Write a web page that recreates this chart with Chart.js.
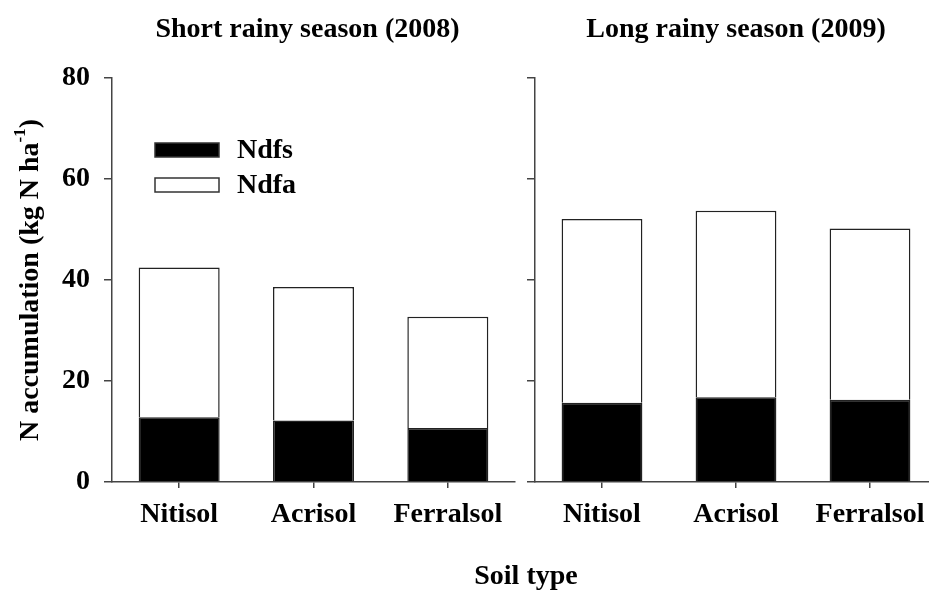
<!DOCTYPE html>
<html>
<head>
<meta charset="utf-8">
<script src="https://cdn.jsdelivr.net/npm/chart.js@4.4.1/dist/chart.umd.min.js"></script>
<style>
  html, body { margin: 0; padding: 0; background: #fff; overflow: hidden; }
  #wrap { position: relative; width: 929px; height: 590px; overflow: hidden; }
  #leftBox { position: absolute; left: 0; top: 0; width: 520px; height: 590px; }
  #rightBox { position: absolute; left: 520px; top: 0; width: 420px; height: 590px; }
  #soilLabel {
    position: absolute; left: 0; width: 1052px; top: 559px; text-align: center;
    font: bold 28px "Liberation Serif", "Times New Roman", serif; color: #000;
  }
</style>
</head>
<body>
<div id="wrap">
  <div id="leftBox"><canvas id="shortChart"></canvas></div>
  <div id="rightBox"><canvas id="longChart"></canvas></div>
  <div id="soilLabel">Soil type</div>
</div>
<script>
const soilTypes = ['Nitisol', 'Acrisol', 'Ferralsol'];
const seriesNames = ['Ndfs', 'Ndfa'];

// short rainy season (2008)
const shortNdfs = [12.8, 12.2, 10.7];
const shortNdfa = [29.7, 26.4, 22.0];

// long rainy season (2009)
const longNdfs = [15.7, 16.8, 16.3];
const longNdfa = [36.4, 36.9, 33.9];

const yMin = 0;
const yMax = 80;
const yStep = 20;

const serif = '"Liberation Serif", "Times New Roman", serif';
const axisColor = '#444';

// panel titles, legend and y title are drawn here
const panelText = {
  id: 'panelText',
  afterDraw(chart, args, opts) {
    const ctx = chart.ctx;
    const area = chart.chartArea;
    ctx.save();
    ctx.fillStyle = '#000';
    ctx.font = `bold 28px ${serif}`;
    ctx.textAlign = 'center';
    ctx.textBaseline = 'middle';
    ctx.fillText(opts.title, (area.left + area.right) / 2 + opts.titleShift, 30);

    if (opts.legend) {
      const ds = chart.data.datasets;
      ds.forEach((d, i) => {
        const y = area.top + 72 + i * 35;
        ctx.fillStyle = d.backgroundColor;
        ctx.strokeStyle = '#333';
        ctx.lineWidth = 1.5;
        ctx.fillRect(area.left + 43, y - 7, 64, 14);
        ctx.strokeRect(area.left + 43, y - 7, 64, 14);
        ctx.fillStyle = '#000';
        ctx.textAlign = 'left';
        ctx.fillText(d.label, area.left + 125, y + 1);
      });
    }

    if (opts.yTitle) {
      const main = 'N accumulation (kg N ha';
      const sup = '-1';
      const end = ')';
      ctx.font = `bold 28px ${serif}`;
      const w1 = ctx.measureText(main).width;
      const w3 = ctx.measureText(end).width;
      ctx.font = `bold 17px ${serif}`;
      const w2 = ctx.measureText(sup).width;
      const total = w1 + w2 + w3;
      ctx.translate(28, (area.top + area.bottom) / 2);
      ctx.rotate(-Math.PI / 2);
      ctx.textAlign = 'left';
      ctx.textBaseline = 'alphabetic';
      let x = -total / 2;
      ctx.font = `bold 28px ${serif}`;
      ctx.fillText(main, x, 10);
      x += w1;
      ctx.font = `bold 17px ${serif}`;
      ctx.fillText(sup, x, -3);
      x += w2;
      ctx.font = `bold 28px ${serif}`;
      ctx.fillText(end, x, 10);
    }
    ctx.restore();
  }
};

function makeChart(canvasId, ndfs, ndfa, opts) {
  return new Chart(document.getElementById(canvasId), {
    type: 'bar',
    data: {
      labels: soilTypes,
      datasets: [
        {
          label: seriesNames[0],
          data: ndfs,
          backgroundColor: '#000',
          borderColor: '#222',
          borderWidth: 1.5
        },
        {
          label: seriesNames[1],
          data: ndfa,
          backgroundColor: '#fff',
          borderColor: '#222',
          borderWidth: 1.5
        }
      ]
    },
    options: {
      responsive: true,
      maintainAspectRatio: false,
      animation: false,
      layout: {
        padding: { left: 0, right: opts.rightPad, top: 78, bottom: 0 }
      },
      datasets: {
        bar: { categoryPercentage: 1, barPercentage: 0.603 }
      },
      scales: {
        x: {
          stacked: true,
          afterFit: s => { s.height = 108; },
          grid: {
            offset: false,
            drawOnChartArea: false,
            drawTicks: true,
            tickLength: 6,
            color: axisColor,
            lineWidth: 1.5
          },
          border: { display: true, color: axisColor, width: 1.5 },
          ticks: {
            color: '#000',
            padding: 10,
            font: { family: serif, size: 28, weight: 'bold' }
          }
        },
        y: {
          stacked: true,
          min: yMin,
          max: yMax,
          afterFit: s => { s.width = opts.yWidth; },
          grid: {
            drawOnChartArea: false,
            drawTicks: true,
            tickLength: 8,
            color: axisColor,
            lineWidth: 1.5
          },
          border: { display: true, color: axisColor, width: 1.5 },
          ticks: {
            display: opts.showYLabels,
            stepSize: yStep,
            color: '#000',
            padding: 14,
            font: { family: serif, size: 28, weight: 'bold' }
          }
        }
      },
      plugins: {
        legend: { display: false },
        tooltip: { enabled: false },
        panelText: {
          title: opts.title,
          titleShift: opts.titleShift,
          legend: opts.legend,
          yTitle: opts.yTitle
        }
      }
    },
    plugins: [panelText]
  });
}

makeChart('shortChart', shortNdfs, shortNdfa, {
  title: 'Short rainy season (2008)',
  titleShift: -6,
  legend: true,
  yTitle: true,
  showYLabels: true,
  yWidth: 112,
  rightPad: 5
});

makeChart('longChart', longNdfs, longNdfa, {
  title: 'Long rainy season (2009)',
  titleShift: 0,
  legend: false,
  yTitle: false,
  showYLabels: false,
  yWidth: 15,
  rightPad: 3
});
</script>
</body>
</html>
